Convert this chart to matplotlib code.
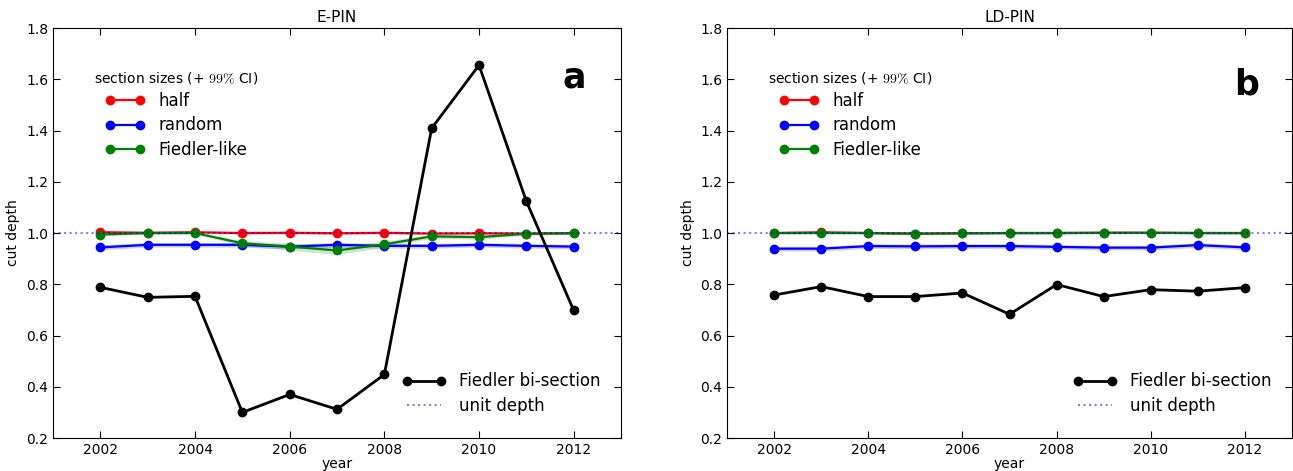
#!/usr/bin/env python3

# Cut depth per year for the E-PIN and LD-PIN networks

import matplotlib as mpl
mpl.use("Agg")

import matplotlib.pyplot as plt   # noqa
import numpy as np                # noqa

mpl.rcParams['mathtext.fontset'] = 'cm'

years = [2002, 2003, 2004, 2005, 2006, 2007, 2008, 2009, 2010, 2011, 2012]

# E-PIN
epin_fiedler = [0.788, 0.749, 0.753, 0.300, 0.370, 0.312, 0.448, 1.409, 1.655, 1.124, 0.698]
epin_half = [1.003, 1.001, 1.003, 1.000, 1.001, 0.999, 1.001, 0.998, 0.999, 0.998, 0.999]
epin_half_ci = [0.006, 0.005, 0.005, 0.005, 0.005, 0.005, 0.005, 0.005, 0.005, 0.005, 0.005]
epin_random = [0.944, 0.954, 0.954, 0.954, 0.947, 0.954, 0.950, 0.950, 0.954, 0.950, 0.947]
epin_random_ci = [0.010, 0.009, 0.009, 0.009, 0.009, 0.009, 0.009, 0.009, 0.009, 0.009, 0.009]
epin_flike = [0.994, 1.000, 1.000, 0.960, 0.947, 0.932, 0.956, 0.987, 0.984, 0.997, 1.000]
epin_flike_ci = [0.005, 0.004, 0.004, 0.010, 0.014, 0.016, 0.012, 0.008, 0.008, 0.005, 0.004]

# LD-PIN
ldpin_fiedler = [0.758, 0.791, 0.752, 0.752, 0.766, 0.683, 0.799, 0.752, 0.779, 0.773, 0.787]
ldpin_half = [1.000, 1.003, 1.000, 0.998, 0.999, 1.000, 1.000, 1.001, 1.001, 1.000, 1.000]
ldpin_half_ci = [0.004, 0.004, 0.004, 0.004, 0.004, 0.004, 0.004, 0.004, 0.004, 0.004, 0.004]
ldpin_random = [0.939, 0.939, 0.949, 0.948, 0.949, 0.949, 0.946, 0.943, 0.943, 0.953, 0.944]
ldpin_random_ci = [0.009, 0.009, 0.009, 0.009, 0.009, 0.009, 0.009, 0.009, 0.009, 0.009, 0.009]
ldpin_flike = [1.000, 1.000, 1.000, 0.997, 0.999, 1.000, 1.000, 1.001, 1.001, 1.000, 1.000]
ldpin_flike_ci = [0.003, 0.003, 0.003, 0.003, 0.003, 0.003, 0.003, 0.003, 0.003, 0.003, 0.003]

panels = [
  ('E-PIN', 'a', (0.917, 0.854), epin_fiedler,
   [(epin_half, epin_half_ci, 'red', 'half'),
    (epin_random, epin_random_ci, 'blue', 'random'),
    (epin_flike, epin_flike_ci, 'green', 'Fiedler-like')]),
  ('LD-PIN', 'b', (0.920, 0.839), ldpin_fiedler,
   [(ldpin_half, ldpin_half_ci, 'red', 'half'),
    (ldpin_random, ldpin_random_ci, 'blue', 'random'),
    (ldpin_flike, ldpin_flike_ci, 'green', 'Fiedler-like')]),
]


def makegraph():
  fig = plt.figure(figsize=(12.93, 4.71), dpi=100)
  rects = [[0.041, 0.070, 0.4393, 0.8705],
           [0.5623, 0.070, 0.4370, 0.8705]]

  for rect, (title, letter, lpos, fiedler, sizes) in zip(rects, panels):
    ax = fig.add_axes(rect)
    yr = np.array(years)

    handles = []
    for vals, ci, col, lab in sizes:
      v = np.array(vals)
      c = np.array(ci)
      ax.fill_between(yr, v - c, v + c, color=col, alpha=0.2, lw=0)
      h, = ax.plot(yr, v, color=col, lw=1.6, marker='o', ms=6,
                   markeredgecolor=col, label=lab)
      handles.append(h)

    fb, = ax.plot(yr, fiedler, color='black', lw=2, marker='o', ms=6,
                  label='Fiedler bi-section')
    ud = ax.axhline(1.0, color='blue', alpha=0.5, ls=':', lw=1.5,
                    label='unit depth')

    ax.set_xlim(2001, 2013)
    ax.set_ylim(0.2, 1.8)
    ax.set_xticks([2002, 2004, 2006, 2008, 2010, 2012])
    ax.set_yticks(np.arange(0.2, 1.81, 0.2))
    ax.tick_params(direction='in', top=True, right=True, length=5,
                   labelsize=10)
    ax.set_title(title, fontsize=11, pad=4)
    ax.set_xlabel('year', fontsize=10, labelpad=0)
    ax.set_ylabel('cut depth', fontsize=10)

    leg1 = ax.legend(handles=handles, loc='upper left',
                     bbox_to_anchor=(0.046, 0.935), frameon=False,
                     title=r'section sizes (+ $99\%$ CI)',
                     title_fontsize=10, fontsize=12, numpoints=2,
                     handlelength=2.4, labelspacing=0.38)
    ax.add_artist(leg1)
    ax.legend(handles=[fb, ud], loc='lower right',
              bbox_to_anchor=(0.99, 0.02), frameon=False, fontsize=12,
              numpoints=2, handlelength=2.6, labelspacing=0.38)

    ax.text(lpos[0], lpos[1], letter, transform=ax.transAxes, fontsize=25,
            fontweight='bold', ha='center', va='baseline')

  plt.savefig('out.png', dpi=100)


if __name__ == "__main__":
  makegraph()
